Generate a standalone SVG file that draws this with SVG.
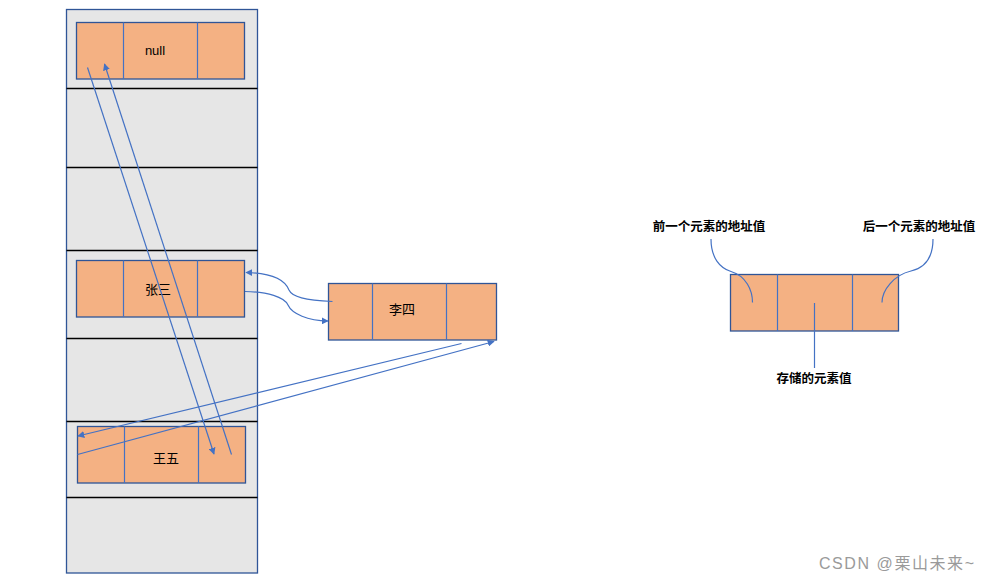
<svg xmlns="http://www.w3.org/2000/svg" width="991" height="582" viewBox="0 0 991 582">
<defs>
<style>
.cell{fill:#F4B183;stroke:#2F5597;stroke-width:1.3}
.div{stroke:#4472C4;stroke-width:1.2}
.sep{stroke:#000;stroke-width:1.3}
.lbl{font-family:"Liberation Sans","Noto Sans CJK SC",sans-serif;font-size:13px;fill:#000;text-anchor:middle}
.note{font-family:"Liberation Sans","Noto Sans CJK SC",sans-serif;font-size:12.5px;font-weight:bold;fill:#000;text-anchor:middle}
.ln{fill:none;stroke:#4472C4;stroke-width:1.2}
</style>
<marker id="ah" viewBox="0 0 10 10" refX="9" refY="5" markerWidth="7" markerHeight="7" orient="auto" markerUnits="userSpaceOnUse">
<path d="M0,0 L10,5 L0,10 z" fill="#4472C4"/>
</marker>
</defs>
<rect width="991" height="582" fill="#fff"/>
<g id="memory">
<rect x="66.5" y="9.5" width="191" height="563.5" fill="#E6E6E6" stroke="#2F5597" stroke-width="1.3"/>
<line class="sep" x1="66.5" y1="88.5" x2="257.5" y2="88.5"/>
<line class="sep" x1="66.5" y1="167.5" x2="257.5" y2="167.5"/>
<line class="sep" x1="66.5" y1="250.5" x2="257.5" y2="250.5"/>
<line class="sep" x1="66.5" y1="338.5" x2="257.5" y2="338.5"/>
<line class="sep" x1="66.5" y1="421.5" x2="257.5" y2="421.5"/>
<line class="sep" x1="66.5" y1="497.5" x2="257.5" y2="497.5"/>
</g>
<g id="node-null">
<rect class="cell" x="76.5" y="22.5" width="168" height="56.5"/>
<line class="div" x1="123.5" y1="22.5" x2="123.5" y2="79"/>
<line class="div" x1="197.5" y1="22.5" x2="197.5" y2="79"/>
<text class="lbl" x="155" y="55">null</text>
</g>
<g id="node-zhangsan">
<rect class="cell" x="76.5" y="260.5" width="168" height="56.5"/>
<line class="div" x1="123.5" y1="260.5" x2="123.5" y2="317"/>
<line class="div" x1="197.5" y1="260.5" x2="197.5" y2="317"/>
<text class="lbl" x="158" y="294">张三</text>
</g>
<g id="node-lisi">
<rect class="cell" x="328.5" y="283.5" width="168" height="56.5"/>
<line class="div" x1="372.5" y1="283.5" x2="372.5" y2="340"/>
<line class="div" x1="446.5" y1="283.5" x2="446.5" y2="340"/>
<text class="lbl" x="402" y="314">李四</text>
</g>
<g id="node-wangwu">
<rect class="cell" x="77.5" y="426.5" width="168" height="56.5"/>
<line class="div" x1="124.5" y1="426.5" x2="124.5" y2="483"/>
<line class="div" x1="198.5" y1="426.5" x2="198.5" y2="483"/>
<text class="lbl" x="166" y="463">王五</text>
</g>
<g id="node-legend">
<rect class="cell" x="730.5" y="274.5" width="168" height="56.5"/>
<line class="div" x1="777.5" y1="274.5" x2="777.5" y2="331"/>
<line class="div" x1="852.5" y1="274.5" x2="852.5" y2="331"/>
<text class="note" x="709" y="231">前一个元素的地址值</text>
<text class="note" x="919" y="231">后一个元素的地址值</text>
<text class="note" x="814" y="383">存储的元素值</text>
</g>
<g id="connectors">
<line class="ln" x1="87.5" y1="67.5" x2="214" y2="454" marker-end="url(#ah)"/>
<line class="ln" x1="231.5" y1="454.5" x2="104.5" y2="64" marker-end="url(#ah)"/>
<path class="ln" d="M332.5 301.5 C305 300 292 297 289 290 C285 280 272 273 246 272.5" marker-end="url(#ah)"/>
<path class="ln" d="M245 291.5 C268 292 284 297 288 305 C292 314 308 320.5 328 321" marker-end="url(#ah)"/>
<line class="ln" x1="77.5" y1="454.5" x2="494" y2="341.5" marker-end="url(#ah)"/>
<line class="ln" x1="461.5" y1="343.5" x2="78" y2="436" marker-end="url(#ah)"/>
<path class="ln" d="M711 239 C711 258 720 268 731 271.5 C746 276 752.5 290 752.5 302.5"/>
<path class="ln" d="M933 239 C933 258 924 268 911 271 C894 275 882 290 882 302.5"/>
<line class="ln" x1="814.5" y1="303" x2="814.5" y2="368"/>
</g>
<text x="819" y="569" font-family="Liberation Sans,'Noto Sans CJK SC',sans-serif" font-size="16" fill="#9a9a9a" textLength="155" lengthAdjust="spacing">CSDN @栗山未来~</text>
</svg>
